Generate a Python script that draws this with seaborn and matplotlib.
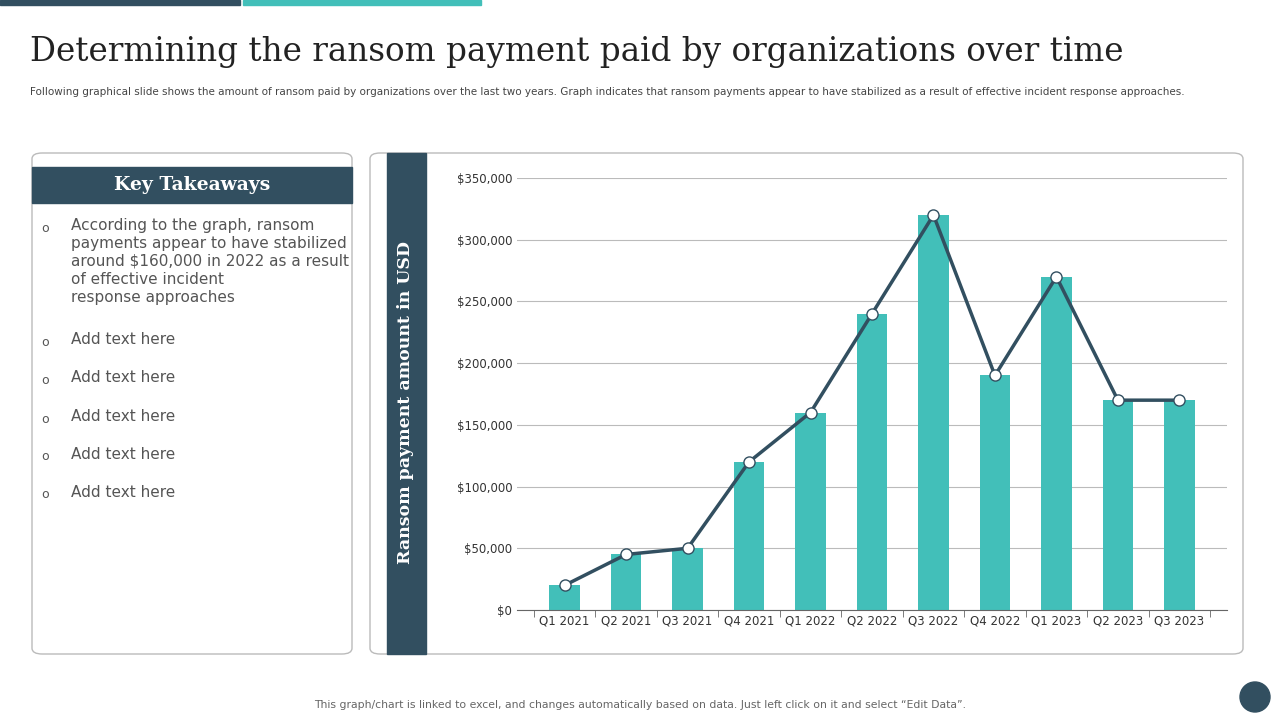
import matplotlib.pyplot as plt
import seaborn as sns
from matplotlib.patches import FancyBboxPatch, Rectangle, Ellipse
from matplotlib.ticker import FuncFormatter

quarters = ['Q1 2021', 'Q2 2021', 'Q3 2021', 'Q4 2021', 'Q1 2022', 'Q2 2022',
            'Q3 2022', 'Q4 2022', 'Q1 2023', 'Q2 2023', 'Q3 2023']
payments = [20000, 45000, 50000, 120000, 160000, 240000, 320000, 190000, 270000, 170000, 170000]
bullets = ['According to the graph, ransom\npayments appear to have stabilized\naround $160,000 in 2022 as a result\nof effective incident\nresponse approaches',
           'Add text here', 'Add text here', 'Add text here', 'Add text here', 'Add text here']

teal = '#42BFB9'
dark = '#324F60'

fig = plt.figure(figsize=(12.8, 7.2), dpi=100)
W, H = 1280, 720

def fx(x): return x / W
def fy(y): return 1 - y / H

# top accent bars
fig.patches.append(Rectangle((0, fy(5)), fx(240), 5 / H, color=dark, transform=fig.transFigure))
fig.patches.append(Rectangle((fx(243), fy(5)), fx(238), 5 / H, color=teal, transform=fig.transFigure))

fig.text(fx(30), fy(52), 'Determining the ransom payment paid by organizations over time',
         fontsize=23.5, family='DejaVu Serif', color='#222222', va='center')
fig.text(fx(30), fy(92), 'Following graphical slide shows the amount of ransom paid by organizations over the last two years. '
         'Graph indicates that ransom payments appear to have stabilized as a result of effective incident response approaches.',
         fontsize=7.5, color='#444444', va='center')

# panels
for x0, x1 in [(32, 352), (370, 1243)]:
    fig.patches.append(FancyBboxPatch((fx(x0), fy(654)), fx(x1 - x0), (654 - 153) / H,
                                      boxstyle='round,pad=0,rounding_size=0.008', fc='white',
                                      ec='#BBBBBB', lw=1, transform=fig.transFigure))
fig.patches.append(Rectangle((fx(32), fy(203)), fx(320), 36 / H, color=dark, transform=fig.transFigure))
fig.text(fx(192), fy(185), 'Key Takeaways', fontsize=13.5, family='DejaVu Serif', color='white',
         ha='center', va='center', weight='bold')
ys = [228, 342, 380, 419, 457, 495]
for y, t in zip(ys, bullets):
    fig.text(fx(41), fy(y), 'o', fontsize=9, color='#555555', va='center')
    fig.text(fx(71), fy(y - 10), t, fontsize=11, color='#555555', va='top', linespacing=1.25)

fig.patches.append(Rectangle((fx(387), fy(654)), fx(39), (654 - 153) / H, color=dark, transform=fig.transFigure))
fig.text(fx(406), fy(403), 'Ransom payment amount in USD', rotation=90, fontsize=12.5, family='DejaVu Serif',
         color='white', ha='center', va='center', weight='bold')

ax = fig.add_axes([fx(517), fy(610), fx(1227 - 517), (610 - 178) / H])
ax.set_zorder(3)
ax.patch.set_alpha(0)
sns.barplot(x=quarters, y=payments, color=teal, width=0.5, ax=ax, saturation=1)
ax.plot(range(len(quarters)), payments, color=dark, lw=2.5, marker='o', ms=8,
        mfc='white', mec=dark, mew=1, zorder=5)
ax.set_ylim(0, 350000)
ax.set_yticks(range(0, 350001, 50000))
ax.yaxis.set_major_formatter(FuncFormatter(lambda v, p: f'${v:,.0f}'))
ax.grid(axis='y', color='#BBBBBB', lw=0.8)
ax.set_axisbelow(True)
for s in ['top', 'right', 'left']:
    ax.spines[s].set_visible(False)
ax.spines['bottom'].set_color('#666666')
ax.tick_params(axis='y', length=0, labelsize=8.5, colors='#333333')
ax.tick_params(axis='x', labelsize=8.5, colors='#333333', length=4)
ax.set_xticks([i + 0.5 for i in range(-1, len(quarters))], minor=True)
ax.tick_params(axis='x', which='major', length=0)
ax.tick_params(axis='x', which='minor', length=5, color='#666666')

fig.text(fx(640), fy(705), 'This graph/chart is linked to excel, and changes automatically based on data. '
         'Just left click on it and select \u201cEdit Data\u201d.', fontsize=7.8, color='#666666', ha='center', va='center')
fig.patches.append(Ellipse((fx(1255), fy(697)), 30 / W, 30 / H, color=dark, transform=fig.transFigure))

fig.savefig('out.png', dpi=100)
